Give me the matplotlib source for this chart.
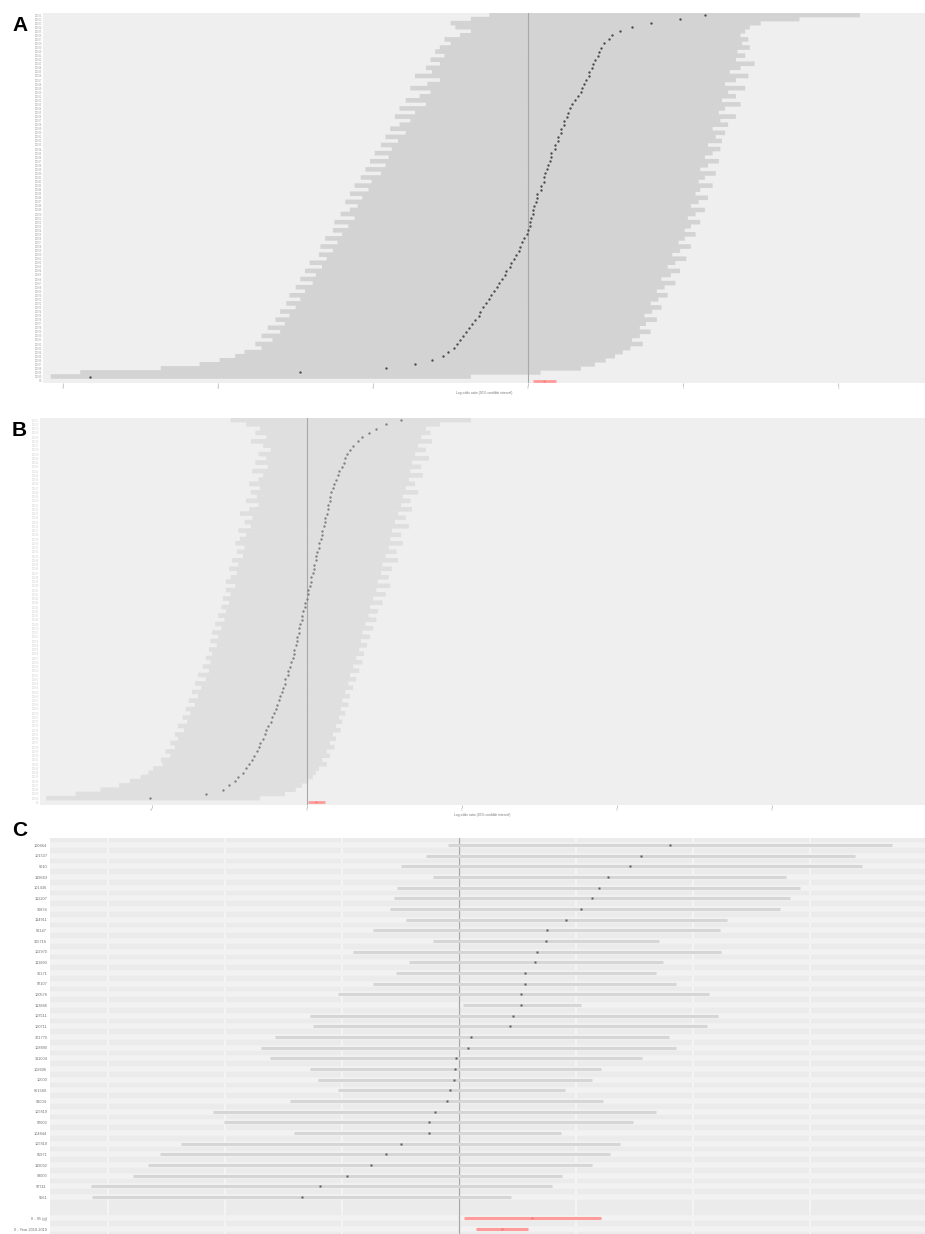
import matplotlib
matplotlib.use("Agg")
import matplotlib.pyplot as plt
import numpy as np

plt.rcParams['font.family'] = ['Liberation Sans', 'DejaVu Sans']

# ---- panel A: study estimates, sorted (top = largest) ----
a_est = [1.14, 0.98, 0.79, 0.67, 0.59, 0.54, 0.52, 0.49, 0.47, 0.46,
         0.45, 0.43, 0.42, 0.41, 0.39, 0.39, 0.37, 0.36, 0.35, 0.34,
         0.32, 0.30, 0.28, 0.27, 0.26, 0.25, 0.23, 0.23, 0.21, 0.21,
         0.19, 0.19, 0.17, 0.17, 0.15, 0.15, 0.14, 0.13, 0.12, 0.11,
         0.10, 0.10, 0.08, 0.08, 0.06, 0.06, 0.05, 0.04, 0.03, 0.03,
         0.02, 0.01, 0.01, 0.00, -0.01, -0.03, -0.04, -0.05, -0.06, -0.08,
         -0.09, -0.11, -0.12, -0.14, -0.15, -0.17, -0.19, -0.20, -0.22, -0.24,
         -0.25, -0.27, -0.29, -0.31, -0.32, -0.34, -0.36, -0.38, -0.40, -0.42,
         -0.44, -0.46, -0.48, -0.52, -0.55, -0.62, -0.73, -0.92, -1.47, -2.83]
a_lo = [-0.25, -0.37, -0.50, -0.47, -0.37, -0.44, -0.54, -0.50, -0.57, -0.60,
        -0.54, -0.63, -0.57, -0.66, -0.62, -0.73, -0.57, -0.65, -0.76, -0.63,
        -0.70, -0.79, -0.66, -0.83, -0.73, -0.86, -0.76, -0.83, -0.89, -0.79,
        -0.92, -0.84, -0.95, -0.88, -0.99, -0.90, -1.02, -0.92, -1.05, -0.95,
        -1.08, -1.01, -1.12, -1.03, -1.15, -1.07, -1.18, -1.10, -1.15, -1.21,
        -1.12, -1.25, -1.16, -1.26, -1.20, -1.31, -1.23, -1.34, -1.26, -1.35,
        -1.30, -1.41, -1.33, -1.44, -1.37, -1.47, -1.39, -1.50, -1.44, -1.54,
        -1.47, -1.56, -1.50, -1.60, -1.54, -1.63, -1.57, -1.68, -1.60, -1.72,
        -1.65, -1.76, -1.72, -1.83, -1.89, -1.99, -2.12, -2.37, -2.89, -3.08]
a_hi = [2.14, 1.75, 1.50, 1.43, 1.40, 1.37, 1.42, 1.38, 1.43, 1.35,
        1.40, 1.34, 1.46, 1.37, 1.30, 1.42, 1.34, 1.27, 1.40, 1.29,
        1.34, 1.25, 1.37, 1.27, 1.23, 1.34, 1.24, 1.29, 1.19, 1.27,
        1.21, 1.25, 1.16, 1.24, 1.19, 1.14, 1.23, 1.16, 1.11, 1.21,
        1.14, 1.10, 1.19, 1.11, 1.08, 1.16, 1.10, 1.05, 1.14, 1.08,
        1.03, 1.11, 1.05, 1.01, 1.08, 1.01, 0.97, 1.05, 0.98, 0.93,
        1.02, 0.95, 0.90, 0.98, 0.92, 0.86, 0.95, 0.88, 0.83, 0.90,
        0.84, 0.79, 0.86, 0.80, 0.75, 0.83, 0.76, 0.72, 0.79, 0.72,
        0.67, 0.74, 0.66, 0.61, 0.56, 0.50, 0.43, 0.34, 0.08, -0.37]
a_pooled = [0.03, 0.10, 0.18]   # lo, est, hi

# ---- panel B ----
b_est = [0.61, 0.51, 0.45, 0.40, 0.36, 0.33, 0.30, 0.28, 0.26, 0.25,
         0.24, 0.23, 0.21, 0.20, 0.19, 0.18, 0.17, 0.16, 0.15, 0.15,
         0.14, 0.14, 0.13, 0.12, 0.12, 0.11, 0.10, 0.10, 0.09, 0.08,
         0.08, 0.07, 0.06, 0.06, 0.05, 0.05, 0.04, 0.03, 0.03, 0.02,
         0.01, 0.01, 0.00, -0.01, -0.01, -0.02, -0.03, -0.03, -0.04, -0.05,
         -0.05, -0.06, -0.06, -0.07, -0.08, -0.08, -0.09, -0.10, -0.11, -0.12,
         -0.12, -0.14, -0.14, -0.15, -0.16, -0.17, -0.18, -0.19, -0.20, -0.21,
         -0.22, -0.23, -0.25, -0.26, -0.27, -0.28, -0.30, -0.31, -0.32, -0.34,
         -0.35, -0.37, -0.39, -0.41, -0.44, -0.46, -0.50, -0.54, -0.65, -1.01]
b_lo = [-0.49, -0.39, -0.30, -0.33, -0.26, -0.36, -0.28, -0.23, -0.31, -0.26,
        -0.33, -0.25, -0.35, -0.28, -0.31, -0.37, -0.30, -0.36, -0.32, -0.39,
        -0.31, -0.37, -0.43, -0.35, -0.40, -0.36, -0.44, -0.39, -0.43, -0.46,
        -0.40, -0.45, -0.41, -0.48, -0.44, -0.50, -0.45, -0.49, -0.52, -0.46,
        -0.52, -0.49, -0.54, -0.50, -0.55, -0.52, -0.57, -0.53, -0.59, -0.55,
        -0.61, -0.57, -0.62, -0.58, -0.63, -0.61, -0.65, -0.62, -0.67, -0.63,
        -0.70, -0.65, -0.72, -0.68, -0.74, -0.70, -0.76, -0.72, -0.78, -0.75,
        -0.80, -0.77, -0.83, -0.79, -0.85, -0.83, -0.88, -0.85, -0.91, -0.88,
        -0.94, -0.93, -0.99, -1.02, -1.07, -1.14, -1.21, -1.33, -1.49, -1.68]
b_hi = [1.06, 0.86, 0.77, 0.80, 0.74, 0.81, 0.72, 0.77, 0.70, 0.79,
        0.68, 0.74, 0.67, 0.75, 0.66, 0.70, 0.64, 0.72, 0.62, 0.67,
        0.61, 0.68, 0.59, 0.64, 0.57, 0.66, 0.55, 0.61, 0.54, 0.62,
        0.53, 0.58, 0.51, 0.59, 0.49, 0.55, 0.48, 0.53, 0.46, 0.54,
        0.45, 0.51, 0.43, 0.49, 0.41, 0.46, 0.40, 0.45, 0.38, 0.43,
        0.36, 0.41, 0.35, 0.39, 0.34, 0.37, 0.32, 0.36, 0.30, 0.34,
        0.28, 0.32, 0.27, 0.30, 0.25, 0.28, 0.23, 0.27, 0.22, 0.25,
        0.21, 0.23, 0.19, 0.22, 0.17, 0.19, 0.15, 0.18, 0.13, 0.15,
        0.10, 0.13, 0.08, 0.06, 0.04, 0.01, -0.03, -0.07, -0.14, -0.30]
b_pooled = [0.01, 0.06, 0.12]

# ---- panel C: selected studies ----
c_labels = ["100464", "101537", "9010", "119663", "101436", "112207", "30874",
            "114911", "90147", "305716", "102970", "113890", "30171", "97107",
            "100576", "113888", "103511", "100711", "301770", "108890", "311004",
            "102606", "10000", "961560", "91004", "105819", "97003", "104844",
            "105818", "95971", "119032", "98003", "97741", "9561"]
c_est = [1.80, 1.55, 1.46, 1.27, 1.19, 1.13, 1.04, 0.91, 0.75, 0.74,
         0.66, 0.65, 0.56, 0.56, 0.53, 0.53, 0.46, 0.43, 0.10, 0.07,
         -0.03, -0.04, -0.05, -0.08, -0.11, -0.21, -0.26, -0.26, -0.50, -0.63,
         -0.76, -0.96, -1.19, -1.35]
c_lo = [-0.10, -0.29, -0.50, -0.23, -0.53, -0.56, -0.59, -0.46, -0.74, -0.23,
        -0.91, -0.43, -0.54, -0.74, -1.04, 0.03, -1.28, -1.25, -1.58, -1.70,
        -1.62, -1.28, -1.21, -1.04, -1.45, -2.11, -2.01, -1.41, -2.38, -2.56,
        -2.66, -2.79, -3.15, -3.14]
c_hi = [3.70, 3.38, 3.44, 2.79, 2.91, 2.83, 2.74, 2.29, 2.23, 1.71,
        2.24, 1.74, 1.68, 1.85, 2.13, 1.04, 2.21, 2.12, 1.79, 1.85,
        1.56, 1.21, 1.13, 0.90, 1.23, 1.68, 1.48, 0.87, 1.37, 1.29,
        1.13, 0.88, 0.79, 0.44]
c_pooled_labels = ["II - 95 (g)", "II - Year 2010-2019"]
c_pooled_est = [0.62, 0.36]
c_pooled_lo = [0.04, 0.14]
c_pooled_hi = [1.21, 0.59]

W, H = 925, 1234
fig = plt.figure(figsize=(W / 100, H / 100), dpi=100)
fig.patch.set_facecolor('white')

RED = '#ff9b9b'


def px_axes(x0, y0, x1, y1):
    return fig.add_axes([x0 / W, 1 - y1 / H, (x1 - x0) / W, (y1 - y0) / H])


def caterpillar(ax, est, lo, hi, pooled, xlim, ci_col, pt_col, lab_col):
    n = len(est)
    rows = np.arange(n)
    ax.set_facecolor('#efefef')
    ax.hlines(rows, lo, hi, color=ci_col, lw=3.3, zorder=2, snap=False)
    ax.axvline(0, color='#a8a8a8', lw=0.8, zorder=2.5)
    ax.plot(est, rows, 'o', ms=1.7, color=pt_col, mec='none', zorder=3)
    ax.hlines([n], pooled[0], pooled[2], color=RED, lw=2.0, zorder=2)
    ax.plot([pooled[1]], [n], 's', ms=1.3, color='#ff7070', mec='none', zorder=3)
    ax.set_xlim(*xlim)
    ax.set_ylim(n + 0.6, -0.5)
    ax.set_yticks(list(rows) + [n])
    ax.set_yticklabels([f"{k + 1:05d}" for k in rows] + ['RE'],
                       fontsize=1.8, color=lab_col)
    ax.set_xticks(np.arange(np.ceil(xlim[0]), xlim[1]))
    ax.tick_params(axis='x', labelsize=2, colors='#b0b0b0', length=2, width=0.5, pad=0.5)
    ax.tick_params(axis='y', length=0, pad=0.5)
    for s in ax.spines.values():
        s.set_visible(False)
    ax.set_xlabel('Log odds ratio (95% credible interval)', fontsize=2.4,
                  color='#777777', labelpad=0.5)


axA = px_axes(43, 13, 925, 383)
caterpillar(axA, a_est, a_lo, a_hi, a_pooled, (-3.13, 2.56), '#d3d3d3', '#4a4a4a', '#a0a0a0')

axB = px_axes(40, 418, 925, 805)
caterpillar(axB, b_est, b_lo, b_hi, b_pooled, (-1.72, 3.99), '#dfdfdf', '#808080', '#d2d2d2')

# ---- panel C ----
axC = px_axes(50, 838, 925, 1234)
nc = len(c_est)
rows_c = np.arange(nc)
rows_p = [nc + 1, nc + 2]
axC.set_facecolor('#ebebeb')
axC.set_axisbelow(True)
axC.set_xlim(-3.50, 3.98)
axC.set_ylim(36.46, -0.66)
axC.set_xticks(np.arange(-3, 4))
axC.set_xticklabels([])
axC.set_yticks(list(rows_c) + rows_p)
axC.set_yticklabels(c_labels + c_pooled_labels, fontsize=2.8, color='#707070')
axC.grid(axis='x', color='#f7f7f7', lw=1.2)
axC.grid(axis='y', color='#f2f2f2', lw=4.0)
axC.tick_params(length=0, pad=2)
for s in axC.spines.values():
    s.set_visible(False)
axC.axvline(0, color='#a8a8a8', lw=0.9, zorder=1)
axC.hlines(rows_c, c_lo, c_hi, color='#d6d6d6', lw=2.2, zorder=2)
axC.plot(c_est, rows_c, 's', ms=2.0, color='#5a5a5a', mec='none', zorder=3)
axC.hlines(rows_p, c_pooled_lo, c_pooled_hi, color=RED, lw=2.2, zorder=2)
axC.plot(c_pooled_est, rows_p, 's', ms=1.6, color='#ff7070', mec='none', zorder=3)

# panel letters
for letter, ytop in [('A', 16), ('B', 421), ('C', 821)]:
    fig.text(12 / W, 1 - ytop / H, letter, fontsize=15, fontweight='bold',
             ha='left', va='top', color='black')

fig.savefig('out.png', dpi=100, facecolor='white')
